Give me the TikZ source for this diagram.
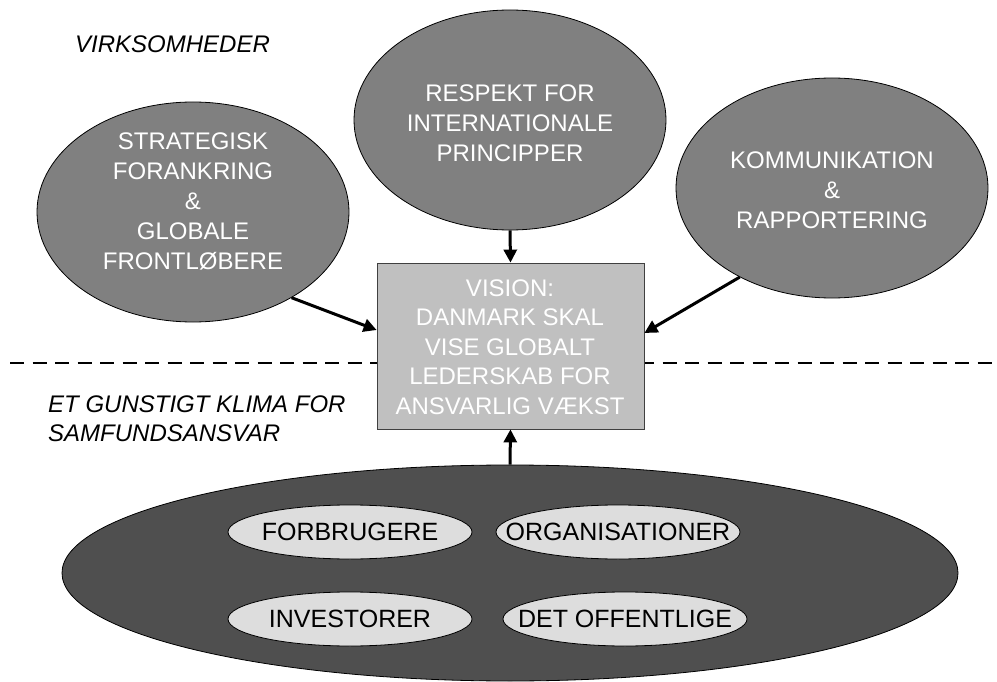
\documentclass[tikz,border=0pt]{standalone}
\usepackage{fontspec}
\setmainfont{Liberation Sans}
\usetikzlibrary{shapes.geometric,arrows.meta}
\definecolor{ellgray}{HTML}{808080}
\definecolor{boxgray}{HTML}{C0C0C0}
\definecolor{biggray}{HTML}{4F4F4F}
\definecolor{smallgray}{HTML}{DDDDDD}
\begin{document}
\begin{tikzpicture}[x=1pt,y=-1pt,
  bigell/.style={ellipse,draw=black,line width=0.8pt,fill=ellgray,minimum width=312pt,minimum height=220pt,inner sep=0pt},
  smallell/.style={ellipse,draw=black,line width=0.8pt,fill=smallgray,minimum width=244pt,minimum height=54pt,inner sep=0pt},
  btext/.style={text=black,font=\fontsize{25}{30}\selectfont,inner sep=0pt},
  wtext/.style={text=white,align=center,font=\fontsize{24}{30}\selectfont,inner sep=0pt},
  label/.style={font=\fontsize{24}{30}\selectfont\itshape,anchor=base west,inner sep=0pt},
  arr/.style={line width=3pt,-{Triangle[length=13pt,width=13pt]}}
]
\useasboundingbox (0,0) rectangle (997,682);
\fill[white] (0,0) rectangle (997,682);

% dashed separator
\draw[line width=2pt,dash pattern=on 14pt off 8.5pt] (10,363) -- (997,363);

% labels
\node[label] (virk) at (75,53) {VIRKSOMHEDER};
\node[label] (klima1) at (48,412) {ET GUNSTIGT KLIMA FOR};
\node[label] (klima2) at (48,441) {SAMFUNDSANSVAR};

% top ellipses
\node[bigell] (L) at (193,212) {};
\node[bigell] (T) at (510,120) {};
\node[bigell] (R) at (832,188) {};
\node[wtext] (Lt) at (193,201) {STRATEGISK\\FORANKRING\\\&\\GLOBALE\\FRONTLØBERE};
\node[wtext] (Tt) at (510,123) {RESPEKT FOR\\INTERNATIONALE\\PRINCIPPER};
\node[wtext] (Rt) at (832,190) {KOMMUNIKATION\\\&\\RAPPORTERING};

% vision box
\node[draw=black!75,line width=0.8pt,fill=boxgray,minimum width=267pt,minimum height=166pt,inner sep=0pt] (box) at (510.5,346) {};
\node[wtext,font=\fontsize{24}{29.5}\selectfont] (boxt) at (510,347) {VISION:\\DANMARK SKAL\\VISE GLOBALT\\LEDERSKAB FOR\\ANSVARLIG VÆKST};

% bottom big ellipse
\node[ellipse,draw=black,line width=0.8pt,fill=biggray,minimum width=896pt,minimum height=216pt,inner sep=0pt] (B) at (510,573) {};
\node[smallell] (forb) at (350,532) {};
\node[smallell] (org) at (618,532) {};
\node[smallell] (inv) at (350,619) {};
\node[smallell] (off) at (625,619) {};
\node[btext] (forbt) at (forb) {FORBRUGERE};
\node[btext] (orgt) at (org) {ORGANISATIONER};
\node[btext] (invt) at (inv) {INVESTORER};
\node[btext] (offt) at (off) {DET OFFENTLIGE};

% arrows
\draw[arr] (L.-41.6) -- ([yshift=16pt]box.west);
\draw[arr] (R.-136.9) -- ([yshift=13pt]box.east);
\draw[arr] (T.south) -- (box.north);
\draw[arr] (B.north) -- (box.south);
\end{tikzpicture}
\end{document}
